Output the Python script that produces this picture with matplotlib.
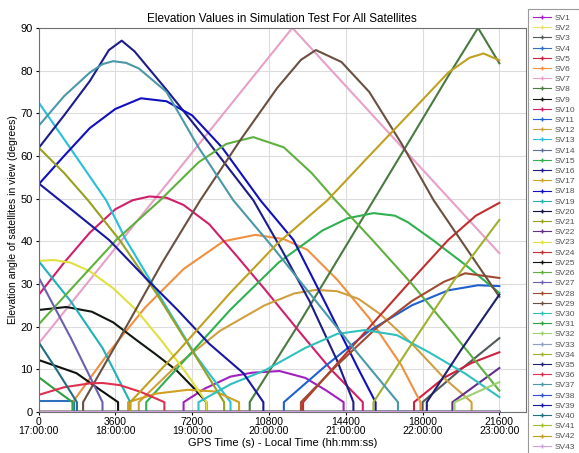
import matplotlib
matplotlib.use("Agg")
import matplotlib.pyplot as plt
from matplotlib.lines import Line2D

plt.rcParams['font.family'] = ['Liberation Sans', 'DejaVu Sans']

# x ticks: GPS seconds and local time
tick_sec = [0, 3600, 7200, 10800, 14400, 18000, 21600]
tick_local = ["17:00:00", "18:00:00", "19:00:00", "20:00:00", "21:00:00", "22:00:00", "23:00:00"]
y_ticks = [0, 10, 20, 30, 40, 50, 60, 70, 80, 90]
t_end = 21600

# read-off points (time s, elevation deg) for the visible satellites
sv1_t = [6800, 7800, 9000, 10000, 11300, 12500, 13500, 14300]
sv1_e = [2.3, 5.5, 8.3, 9.2, 9.6, 8, 5, 2.3]
sv3_t = [18000, 19800, 21600]
sv3_e = [2.3, 10, 17.3]
sv4_t = [0, 1650]
sv4_e = [2.5, 2.5]
sv5_t = [17600, 19000, 20300, 21600]
sv5_e = [2.3, 8, 11.5, 14]
sv6_t = [1600, 3300, 5000, 6800, 8670, 10170, 11500, 12600, 14000, 15500, 17000, 17900]
sv6_e = [2.3, 14, 24.5, 33.5, 40, 41.5, 40.5, 38, 31, 22, 11, 2.3]
sv7_t = [0, 11900, 21600]
sv7_e = [16, 90, 37.2]
sv8_t = [9900, 12000, 14000, 15700, 17500, 19300, 20600, 21600]
sv8_e = [2.3, 19, 35.5, 49.6, 64.5, 79.5, 90, 81.7]
sv9_t = [0, 1300, 2500, 3500, 4580, 5500, 6460, 7300, 7870]
sv9_e = [23.9, 24.6, 23.5, 21, 16.9, 13.5, 9.8, 5.5, 2.3]
sv10_t = [0, 1200, 2400, 3600, 4400, 5200, 6000, 6800, 8000, 9300, 10630, 12280, 13700, 15200]
sv10_e = [27.4, 35, 42, 47.5, 49.6, 50.5, 50.2, 48.5, 44, 36.5, 28.6, 18.5, 10, 2.3]
sv11_t = [11500, 13500, 15500, 17500, 19200, 20600, 21600]
sv11_e = [2.3, 11, 19, 25, 28.5, 29.7, 29.5]
sv12_t = [4700, 6500, 8500, 10600, 12000, 13000, 14000, 15000, 16000, 17500, 19000, 20300]
sv12_e = [2.3, 11, 19, 25, 27.8, 28.6, 28.3, 26.5, 23, 16, 8, 2.3]
sv13_t = [0, 1600, 3170, 4100, 5700, 7400, 9000]
sv13_e = [72.6, 61, 49.6, 40.3, 27, 13, 2.3]
sv15_t = [5050, 7000, 9000, 11250, 13300, 14500, 15700, 16700, 17300, 18480, 20000, 21600]
sv15_e = [2.3, 13, 24, 35, 42.5, 45.4, 46.6, 46, 44.5, 40.3, 34.5, 27.9]
sv16_t = [0, 1200, 2400, 3300, 3900, 4500, 6000, 8000, 10070, 11400, 12700, 14000, 14760]
sv16_e = [61.8, 69.5, 77.5, 84.8, 87, 84.5, 75.5, 63, 49.6, 38, 26, 12, 2.3]
sv17_t = [4200, 5500, 7000, 8300, 9400]
sv17_e = [2.3, 4.3, 5.2, 4.8, 2.3]
sv18_t = [0, 1200, 2400, 3600, 4800, 6000, 7200, 8600, 10400, 11950, 13500, 15000, 15800]
sv18_e = [53.3, 60, 66.5, 71, 73.5, 72.8, 69.5, 62, 49.6, 40.3, 25, 10, 2.3]
sv19_t = [0, 1500, 3000, 4300]
sv19_e = [35.4, 26, 15, 2.3]
sv21_t = [0, 1200, 2320, 3800, 5500, 7000, 8700]
sv21_e = [62, 56, 49.6, 40.3, 28, 16, 2.3]
sv22_t = [19400, 21600]
sv22_e = [2.3, 10.3]
sv23_t = [0, 700, 1500, 2400, 3500, 4580, 5800, 6930, 7870]
sv23_e = [35.4, 35.6, 35, 33, 29, 23.9, 16.5, 9.1, 2.3]
sv24_t = [12400, 15000, 17500, 19200, 20500, 21600]
sv24_e = [2.3, 17, 31, 40.3, 46, 49]
sv25_t = [0, 1780, 2800, 3730]
sv25_e = [12.2, 9.1, 5.5, 2.3]
sv26_t = [0, 3640, 5700, 7500, 8800, 10070, 11500, 12800, 13920, 15650, 17500, 19500, 21600]
sv26_e = [20.5, 40.3, 49.6, 58.5, 62.8, 64.4, 62, 56, 49.6, 40.3, 30, 18, 5]
sv27_t = [0, 1500, 3000]
sv27_e = [31.6, 17.5, 2.3]
sv28_t = [12300, 14000, 15800, 17500, 19000, 20000, 21600]
sv28_e = [2.3, 11, 19.5, 26, 30.5, 32.5, 31.4]
sv29_t = [2090, 4000, 5800, 7580, 9500, 11200, 12300, 13000, 14200, 15500, 17000, 18520, 21600]
sv29_e = [2.3, 19, 35, 49.6, 64, 76, 82.5, 84.8, 82, 75, 63, 49.6, 27]
sv30_t = [7500, 9000, 10630, 12500, 14000, 15300, 16800, 18300, 20000, 21600]
sv30_e = [2.3, 6.5, 9.8, 15, 18.3, 19.2, 18, 14, 9, 3.5]
sv31_t = [0, 800, 1600]
sv31_e = [8.2, 5.2, 2.3]
sv32_t = [19500, 21600]
sv32_e = [2.3, 7]
sv34_t = [15700, 17500, 19500, 21600]
sv34_e = [2.3, 16, 31, 45]
sv35_t = [18200, 19800, 21600]
sv35_e = [2.3, 14.5, 27.5]
sv36_t = [0, 1200, 2400, 3000, 3800, 4800, 5900]
sv36_e = [4, 5.8, 6.7, 6.8, 6.3, 4.7, 2.3]
sv37_t = [0, 1200, 2400, 3000, 3500, 4100, 4700, 6000, 7500, 9130, 11000, 13000, 15000, 16850]
sv37_e = [67, 74, 79.5, 81.5, 82.2, 81.8, 80.5, 75, 62, 49.6, 38.5, 26, 13.5, 2.3]
sv39_t = [0, 1650, 3310, 5000, 6500, 8000, 9600, 10540]
sv39_e = [53.6, 47, 40.3, 31.5, 24, 16, 9.1, 2.3]
sv40_t = [0, 900, 1800]
sv40_e = [16.4, 9.5, 2.3]
sv42_t = [4300, 6500, 9000, 11200, 13540, 15500, 17500, 19200, 20200, 20860, 21600]
sv42_e = [2.3, 14, 28, 39.5, 49.6, 60, 70.5, 79.5, 83, 84, 82.4]

# satellites never above the horizon
sv_hidden = [2, 14, 20, 33, 38, 41, 43]

sv_colors = {
    1: '#a020c0', 2: '#e8e070', 3: '#505a5a', 4: '#3070c0', 5: '#d02040',
    6: '#f09040', 7: '#e8a0c8', 8: '#4a7a40', 9: '#101810', 10: '#d0206a',
    11: '#2060d0', 12: '#d0a040', 13: '#28c0d8', 14: '#6070a0', 15: '#30b050',
    16: '#1c1c8a', 17: '#d0a020', 18: '#1010c0', 19: '#20b0b8', 20: '#101040',
    21: '#98a020', 22: '#60308a', 23: '#e0e040', 24: '#c03030', 25: '#101010',
    26: '#60b040', 27: '#6a60b0', 28: '#a04a30', 29: '#6a5040', 30: '#30c0c0',
    31: '#30a040', 32: '#a0d070', 33: '#90a0c0', 34: '#a0b030', 35: '#202070',
    36: '#e03050', 37: '#4a98a8', 38: '#3050d0', 39: '#1818a0', 40: '#207080',
    41: '#a0c030', 42: '#c0a020', 43: '#d0a0e0',
}

tracks = {}
for n in range(1, 44):
    if n in sv_hidden:
        tracks[n] = ([0, t_end], [0, 0])
        continue
    t = list(globals()['sv%d_t' % n])
    e = list(globals()['sv%d_e' % n])
    # below the mask the elevation is shown as 0
    if t[0] > 0:
        t = [0, t[0]] + t
        e = [0, 0] + e
    if t[-1] < t_end:
        t = t + [t[-1], t_end]
        e = e + [0, 0]
    tracks[n] = (t, e)

fig = plt.figure(figsize=(5.79, 4.53), dpi=100)
ax = fig.add_axes([0.0665, 0.0905, 0.842, 0.848])

for n in range(1, 44):
    t, e = tracks[n]
    ax.plot(t, e, color=sv_colors[n], lw=1.5, solid_joinstyle='round')

ax.set_xlim(0, 22850)
ax.set_ylim(0, 90)
ax.set_xticks(tick_sec)
ax.set_xticklabels(["%d\n%s" % (s, h) for s, h in zip(tick_sec, tick_local)],
                   fontsize=7.5, linespacing=0.95)
ax.set_yticks(y_ticks)
ax.tick_params(axis='y', labelsize=8, length=2, pad=2)
ax.tick_params(axis='x', length=2, pad=1.5)
ax.grid(True, color='#dcdcdc', lw=0.8)
ax.set_axisbelow(True)
for s in ax.spines.values():
    s.set_color('#707070')
    s.set_linewidth(0.8)

ax.set_title("Elevation Values in Simulation Test For All Satellites", fontsize=8.5, pad=4)
ax.set_xlabel("GPS Time (s) - Local Time (hh:mm:ss)", fontsize=8, labelpad=1)
ax.set_ylabel("Elevation angle of satellites in view (degrees)", fontsize=7.5, labelpad=2)

handles = [Line2D([], [], color=sv_colors[n], lw=0.8, marker='+', markersize=2.5)
           for n in range(1, 44)]
labels = ["SV%d" % n for n in range(1, 44)]
leg = fig.legend(handles, labels, loc='upper left', bbox_to_anchor=(0.912, 0.980),
                 fontsize=6.0, labelspacing=0.285, handlelength=2.1, handletextpad=0.45,
                 borderpad=0.6, borderaxespad=0, frameon=True, fancybox=False)
leg.get_frame().set_edgecolor('#808080')
leg.get_frame().set_linewidth(0.8)
for txt in leg.get_texts():
    txt.set_color('#505050')

fig.savefig("out.png", dpi=100)
